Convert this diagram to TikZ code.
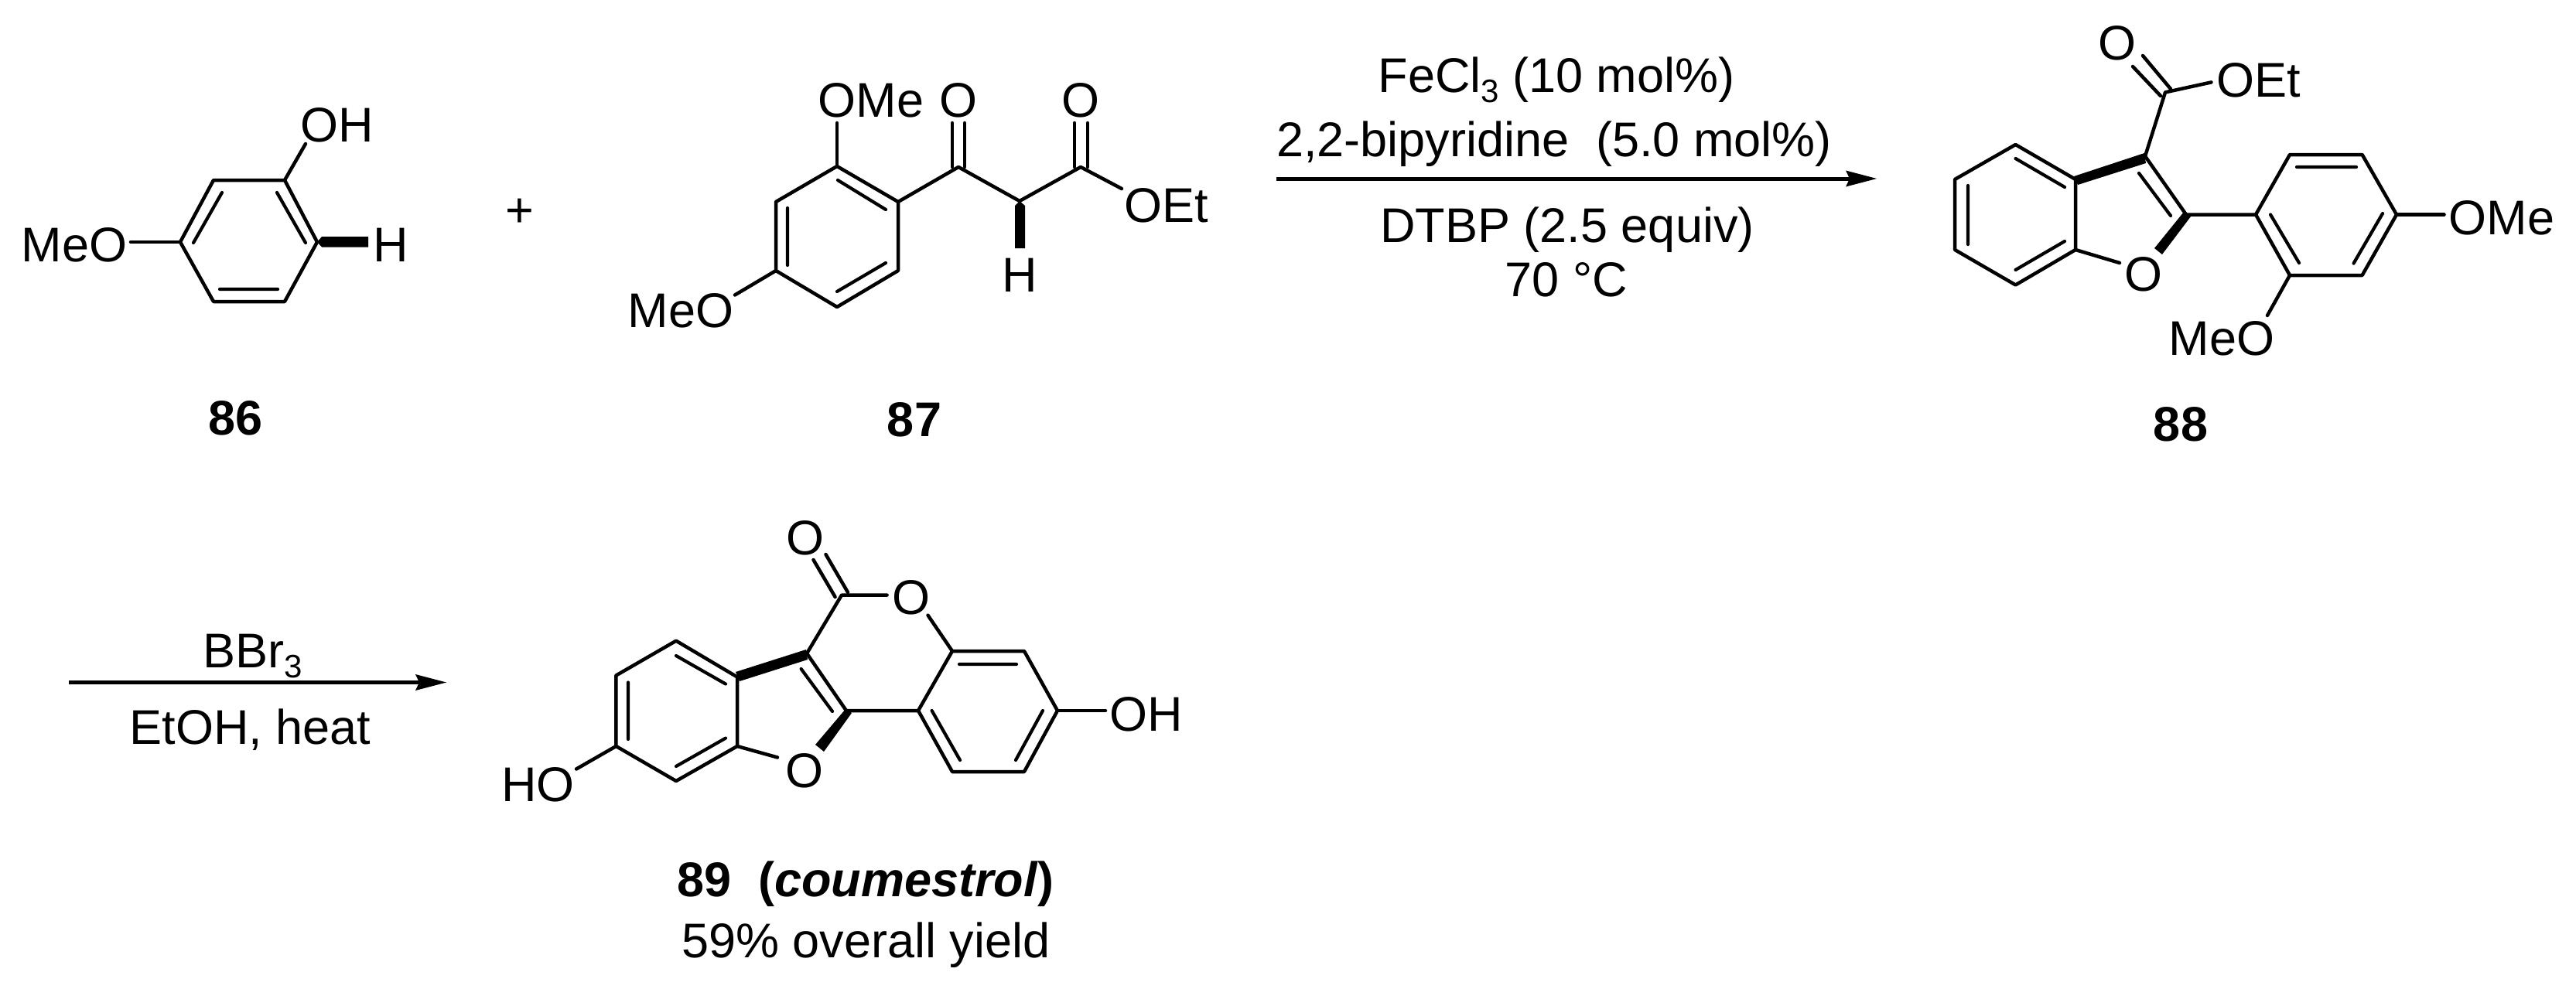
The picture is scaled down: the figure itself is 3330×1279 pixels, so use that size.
\documentclass[tikz,border=0pt]{standalone}
\usepackage{fontspec}
\setmainfont{Liberation Sans}
\usetikzlibrary{arrows.meta}
\newcommand{\subthree}{\raisebox{-13pt}{\fontsize{42}{50}\selectfont 3}}
\tikzset{
  bond/.style={line width=4.5pt,line join=round,line cap=round},
  innerbond/.style={line width=4.2pt,line cap=round},
  rxnarrow/.style={line width=5pt,-{Stealth[length=40pt,width=21pt,inset=5pt,line width=0pt]}},
  lab/.style={anchor=base,inner sep=0pt,font=\fontsize{63}{75}\selectfont},
  cpd/.style={anchor=base,inner sep=0pt,font=\fontsize{63}{75}\selectfont\bfseries}
}
\begin{document}
\begin{tikzpicture}[x=1pt,y=-1pt]
\useasboundingbox (0,0) rectangle (3330,1279);
% ---------- 86
\foreach \n/\x/\y in {a1/276/233,a2/368/233,a3/410/313,a4/368/390,a5/276/390,a6/233/313,
  aO/395/186,aM/169/313,ai1/287/249,ai2/250/314,ai3/358/249,ai4/395/314,ai5/284/374,ai6/359/374,
  aw1/416/306,aw2/476/306,aw3/476/319.5,aw4/416/319.5}
  \coordinate (\n) at (\x,\y);
\node[lab] (aOH) at (436,183) {OH};
\node[lab] (aMeO) at (96,338) {MeO};
\node[lab] (aH) at (505,338) {H};
\draw[bond] (a1)--(a2)--(a3)--(a4)--(a5)--(a6)--cycle;
\draw[bond] (a2)--(aO);
\draw[bond] (a6)--(aM);
\draw[innerbond] (ai1)--(ai2) (ai3)--(ai4) (ai5)--(ai6);
\fill (a3)--(aw1)--(aw2)--(aw3)--(aw4)--cycle;
\node[lab] (plus) at (671.5,293) {+};
\node[cpd] (n86) at (305,562) {86};
% ---------- 87
\foreach \n/\x/\y in {b1/1082/215,b2/1161/261,b3/1161/350,b4/1082/397,b5/1003/350,b6/1003/261,
  bk/1239/216,bh/1318/260,be/1397/216,bOa/1082/159,bOb/950/381.5,bOc/1450/244,
  bi1/1083/233,bi2/1145/271,bi3/1018/269,bi4/1018/343,bi5/1145/340,bi6/1082/377,
  bk1/1231/159,bk2/1231/216,bk3/1247/159,bk4/1247/216,
  be1/1389/159,be2/1389/216,be3/1406/159,be4/1406/216,
  bw1/1312/266,bw2/1325/266,bw3/1325/321,bw4/1312/321}
  \coordinate (\n) at (\x,\y);
\node[lab] (bOMe) at (1126,152) {OMe};
\node[lab] (bMeO) at (880,423) {MeO};
\node[lab] (bO1) at (1239,152) {O};
\node[lab] (bO2) at (1397,152) {O};
\node[lab] (bOEt) at (1507.5,287) {OEt};
\node[lab] (bH) at (1318,377) {H};
\draw[bond] (b1)--(b2)--(b3)--(b4)--(b5)--(b6)--cycle;
\draw[bond] (b2)--(bk)--(bh)--(be)--(bOc);
\draw[bond] (b1)--(bOa);
\draw[bond] (bOb)--(b5);
\draw[innerbond] (bi1)--(bi2) (bi3)--(bi4) (bi5)--(bi6);
\draw[bond] (bk1)--(bk2) (bk3)--(bk4) (be1)--(be2) (be3)--(be4);
\fill (bh)--(bw2)--(bw3)--(bw4)--(bw1)--cycle;
\node[cpd] (n87) at (1182,564) {87};
% ---------- arrow 1
\coordinate (r1s) at (1650,231);
\coordinate (r1e) at (2426,231);
\draw[rxnarrow] (r1s)--(r1e);
\node[lab] (r1a) at (2012,120) {FeCl\subthree\ (10 mol\%)};
\node[lab] (r1b) at (2009,202) {2,2-bipyridine\ \ (5.0 mol\%)};
\node[lab] (r1c) at (2026,313) {DTBP (2.5 equiv)};
\node[lab] (r1d) at (2025,383) {70 °C};
% ---------- 88
\foreach \n/\x/\y in {c1/2605.5/187,c2/2683/232,c3/2683/323,c4/2605.5/368.5,c5/2527/323,c6/2527/232,
  c7/2773/202,c8/2826/277.5,cC/2799/119.4,cOb/2740/340,
  ci1/2605.5/205,ci2/2669/242,ci3/2544/240,ci4/2544/316,ci5/2605.5/349,ci6/2669/312,ci7/2765/224,ci8/2806/279,
  cd1/2757/86,cd2/2793/124,cd3/2770/72,cd4/2806/115,cOe/2858.5/106.4,
  d1/2916/277.5,d2/2960/200,d3/3053.6/200,d4/3098/277.5,d5/3053.6/356,d6/2960/356,
  di1/2969/216,di2/3046/216,di3/3080/276,di4/3042.5/340.6,di5/2935/277.5,di6/2972/340,
  dOa/3159.5/277.5,dOb/2931/408,
  cb1/2681/228,cb2/2772/198,cb3/2774/211,cb4/2686/239,cw1/2823/274,cw2/2832/280,cw3/2795/329,cw4/2785/321}
  \coordinate (\n) at (\x,\y);
\node[lab] (cO1) at (2737,78) {O};
\node[lab] (cOEt) at (2919.5,126) {OEt};
\node[lab] (cO2) at (2771,376) {O};
\node[lab] (dOMe) at (3234,303.5) {OMe};
\node[lab] (dMeO) at (2872,459) {MeO};
\draw[bond] (c2)--(c1)--(c6)--(c5)--(c4)--(c3)--cycle;
\draw[bond] (c3)--(cOb);
\draw[bond] (c7)--(c8);
\draw[bond] (c7)--(cC)--(cOe);
\draw[bond] (cd1)--(cd2) (cd3)--(cd4);
\draw[innerbond] (ci1)--(ci2) (ci3)--(ci4) (ci5)--(ci6) (ci7)--(ci8);
\fill (cb1)--(cb2)--(cb3)--(cb4)--cycle;
\fill (cw1)--(cw2)--(cw3)--(cw4)--cycle;
\draw[bond] (c8)--(d1)--(d2)--(d3)--(d4)--(d5)--(d6)--(d1);
\draw[bond] (d4)--(dOa);
\draw[bond] (d6)--(dOb);
\draw[innerbond] (di1)--(di2) (di3)--(di4) (di5)--(di6);
\node[cpd] (n88) at (2819,570) {88};
% ---------- arrow 2
\coordinate (r2s) at (89,882.5);
\coordinate (r2e) at (577,882.5);
\draw[rxnarrow] (r2s)--(r2e);
\node[lab] (r2a) at (327,863) {BBr\subthree};
\node[lab] (r2b) at (323.5,962.5) {EtOH, heat};
% ---------- 89
\foreach \n/\x/\y in {e1/874/828.7,e2/953/875.5,e3/953/965,e4/874/1010,e5/796.4/965,e6/796.4/873.5,
  eO/745/994.5,ei1/874/848,ei2/938/884.5,ei3/812/882.5,ei4/812/956,ei5/874/991,ei6/938/954.6,
  e7/1043/845,e8/1094/919,eC/1088/769.6,eOb/1005/979.5,ei7/1035.6/865,ei8/1076/920,
  ed1/1051.5/724,ed2/1079.6/772,ed3/1067.5/717,ed4/1096/766,eL1/1146.6/769.6,eL2/1199.5/795.7,
  f1/1231/842,f2/1324/842,f3/1367/919,f4/1324/998,f5/1231/998,f6/1187/919,
  fi1/1240/859,fi2/1314/859,fi3/1348/919,fi4/1313/983,fi5/1204.6/919,fi6/1241/983,fOH/1429/919,
  eb1/951/869,eb2/1042/840,eb3/1044/853,eb4/956/881,ew1/1093/917,ew2/1101/922,ew3/1065/972,ew4/1054/963}
  \coordinate (\n) at (\x,\y);
\node[lab] (eHO) at (695.5,1036) {HO};
\node[lab] (eO1) at (1041,717) {O};
\node[lab] (eO2) at (1178,794) {O};
\node[lab] (eO3) at (1040,1018) {O};
\node[lab] (fOHt) at (1482,945) {OH};
\draw[bond] (e2)--(e1)--(e6)--(e5)--(e4)--(e3)--cycle;
\draw[bond] (e5)--(eO);
\draw[bond] (e3)--(eOb);
\draw[bond] (e7)--(e8)--(f6);
\draw[bond] (e7)--(eC)--(eL1);
\draw[bond] (ed1)--(ed2) (ed3)--(ed4);
\draw[bond] (eL2)--(f1);
\draw[bond] (f1)--(f2)--(f3)--(f4)--(f5)--(f6)--cycle;
\draw[bond] (f3)--(fOH);
\draw[innerbond] (ei1)--(ei2) (ei3)--(ei4) (ei5)--(ei6) (ei7)--(ei8);
\draw[innerbond] (fi1)--(fi2) (fi3)--(fi4) (fi5)--(fi6);
\fill (eb1)--(eb2)--(eb3)--(eb4)--cycle;
\fill (ew1)--(ew2)--(ew3)--(ew4)--cycle;
\node[cpd] (n89) at (1119,1159) {89\ \ (\textit{coumestrol})};
\node[lab] (n89b) at (1119.5,1238) {59\% overall yield};
\end{tikzpicture}
\end{document}
